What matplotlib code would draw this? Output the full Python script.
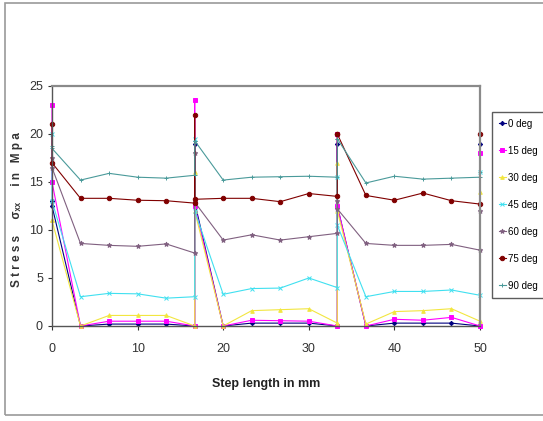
import matplotlib
matplotlib.use("Agg")
import matplotlib.pyplot as plt
from matplotlib.patches import Rectangle

# Step positions along the specimen (mm); repeated x marks the joints between steps
step_x = [0, 0, 3.33, 6.67, 10, 13.33, 16.67, 16.67, 16.67, 20, 23.33, 26.67, 30,
          33.33, 33.33, 33.33, 36.67, 40, 43.33, 46.67, 50, 50]

# Stress values (MPa) for each fibre angle
deg0 = [13, 12.5, 0, 0.2, 0.2, 0.2, 0, 19, 12.9, 0, 0.3, 0.3, 0.3, 0, 19, 12.5,
        0, 0.3, 0.3, 0.3, 0, 19]
deg15 = [23, 15, 0, 0.5, 0.5, 0.5, 0, 23.5, 12.5, 0, 0.6, 0.55, 0.5, 0, 20, 12.5,
         0, 0.7, 0.6, 0.9, 0, 18]
deg30 = [11, 11, 0, 1.1, 1.1, 1.1, 0, 16, 12, 0, 1.6, 1.7, 1.8, 0.3, 17, 12,
         0.2, 1.5, 1.6, 1.8, 0.5, 14]
deg45 = [20, 13, 3.05, 3.4, 3.35, 2.9, 3.05, 19.5, 12, 3.3, 3.9, 3.95, 5.0, 4.0,
         15.5, 10.5, 3.05, 3.6, 3.6, 3.75, 3.2, 16]
deg60 = [17.5, 16.5, 8.6, 8.4, 8.3, 8.55, 7.6, 18, 12.9, 8.95, 9.5, 8.95, 9.3, 9.65,
         13, 12.2, 8.6, 8.4, 8.4, 8.5, 7.9, 12]
deg75 = [21, 17, 13.3, 13.3, 13.1, 13.05, 12.8, 22, 13.2, 13.3, 13.3, 12.95, 13.8,
         13.5, 20, 20, 13.6, 13.1, 13.85, 13.05, 12.7, 20]
deg90 = [18.7, 18.5, 15.2, 15.9, 15.5, 15.4, 15.7, 19.3, 19.3, 15.2, 15.5, 15.55,
         15.6, 15.5, 19.5, 19.5, 14.9, 15.6, 15.3, 15.4, 15.5, 16]

series_labels = ["0 deg", "15 deg", "30 deg", "45 deg", "60 deg", "75 deg", "90 deg"]
series_values = [deg0, deg15, deg30, deg45, deg60, deg75, deg90]
series_colors = ["#000080", "#ff00ff", "#f2e640", "#40e0f0", "#806080", "#800000", "#4a9a9a"]
series_markers = ["D", "s", "^", "x", "*", "o", "+"]
series_msize = [2.2, 2.6, 2.6, 2.6, 3.5, 3.2, 3.5]

x_ticks = [0, 10, 20, 30, 40, 50]
y_ticks = [0, 5, 10, 15, 20, 25]

plt.rcParams["font.family"] = ["Liberation Sans", "DejaVu Sans"]

fig = plt.figure(figsize=(5.43, 4.21), dpi=100)
fig.patch.set_facecolor("white")

# chart-area frame
fig.add_artist(Rectangle((5 / 543, 6 / 421), 545 / 543, 412 / 421,
                         transform=fig.transFigure, fill=False,
                         edgecolor="#9a9a9a", linewidth=1.2))

ax = fig.add_axes([52 / 543, 1 - 326 / 421, 428 / 543, 240 / 421])
for lbl, vals, c, m, ms in zip(series_labels, series_values, series_colors,
                               series_markers, series_msize):
    ax.plot(step_x, vals, color=c, marker=m, markersize=ms, linewidth=0.8,
            markeredgewidth=0.7, label=lbl, clip_on=False)

ax.set_xlim(0, 50)
ax.set_ylim(0, 25)
ax.set_xticks(x_ticks)
ax.set_yticks(y_ticks)
ax.tick_params(axis="both", labelsize=9, colors="#333333", length=3, direction="out",
               width=0.8)
ax.tick_params(axis="x", pad=9)
for side in ("left", "bottom"):
    ax.spines[side].set_color("#555555")
    ax.spines[side].set_linewidth(1.0)
for side in ("top", "right"):
    ax.spines[side].set_color("#8a8a8a")
    ax.spines[side].set_linewidth(1.6)

ax.set_xlabel("Step length in mm", fontsize=9, fontweight="bold", color="#222222",
              labelpad=17)
fig.text(17 / 543, 1 - 210 / 421,
         "S t r e s s     \u03c3\u2093\u2093     i n   M p a", rotation=90,
         ha="center", va="center", fontsize=8.5, fontweight="bold", color="#333333")

handles, labels = ax.get_legend_handles_labels()
leg = fig.legend(handles, labels, loc="upper left",
                 bbox_to_anchor=(492 / 543, 1 - 112 / 421), fontsize=7,
                 frameon=True, fancybox=False, handlelength=0.7, handletextpad=0.25,
                 labelspacing=1.75, borderpad=0.7, borderaxespad=0)
leg.get_frame().set_edgecolor("#333333")
leg.get_frame().set_linewidth(1.0)

fig.savefig("out.png", dpi=100, facecolor="white")
